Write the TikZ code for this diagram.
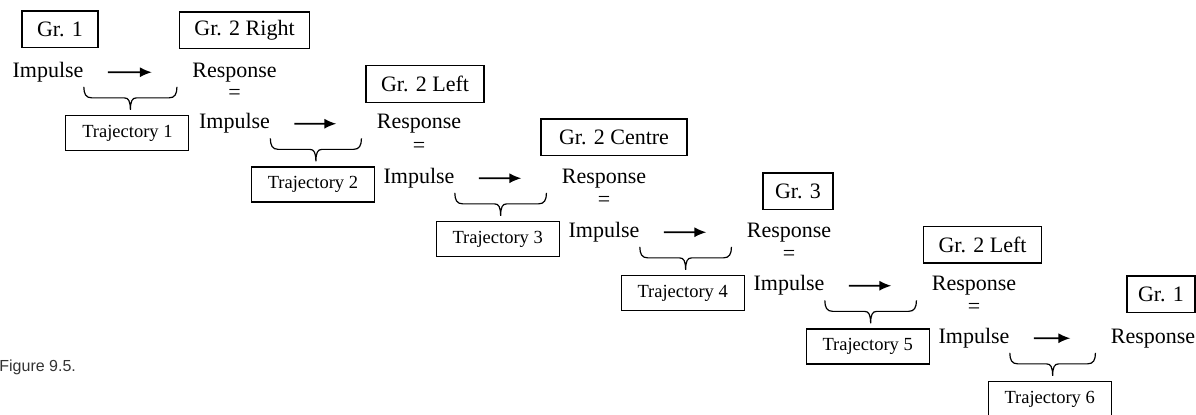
\documentclass[tikz,border=0pt]{standalone}
\usepackage{fontspec}
\setmainfont{Liberation Serif}
\newfontfamily\captionsans{Liberation Sans}
\usetikzlibrary{arrows.meta,positioning,calc}

\begin{document}
\begin{tikzpicture}[
x=0.5pt, y=-0.5pt,
font=\fontsize{11}{13}\selectfont,
node distance=6.25pt,
term/.style={inner sep=0pt, anchor=base},
eqsign/.style={inner sep=0pt},
grbox/.style={draw, line width=0.6pt, inner xsep=7.5pt, minimum height=18.25pt},
trajbox/.style={draw, line width=0.6pt, font=\fontsize{9.25}{11}\selectfont, minimum width=61.5pt, minimum height=17.5pt, xshift=-1.5pt},
arrow/.style={-{Latex[length=6pt,width=5pt]}, line width=0.85pt, shorten <=12pt, shorten >=20pt},
brc/.style={line width=0.6pt, to path={
  let \p1=(\tikztostart), \p2=(\tikztotarget), \p3=($(\p1)!0.5!(\p2)$) in
  (\p1) .. controls (\x1,\y1-3.5pt) and (\x1+1pt,\y1-5.5pt) .. (\x1+4pt,\y1-5.5pt)
  -- (\x3-3pt,\y1-5.5pt) .. controls (\x3-1pt,\y1-5.5pt) and (\x3,\y1-7pt) .. (\x3,\y1-11.5pt)
  .. controls (\x3,\y1-7pt) and (\x3+1pt,\y1-5.5pt) .. (\x3+3pt,\y1-5.5pt)
  -- (\x2-4pt,\y1-5.5pt) .. controls (\x2-1pt,\y1-5.5pt) and (\x2,\y1-3.5pt) .. (\p2)}}
]
\useasboundingbox (0,0) rectangle (1196,414);

% impulse / response chain
\node[term] (imp1) at (48,77.3) {Impulse};
\node[term] (resp1) at (234.5,77.3) {Response};
\node[eqsign] (eq1) at (234.5,94.5) {=};
\node[term] (imp2) at (234.5,128.8) {Impulse};
\node[term] (resp2) at (419,128.8) {Response};
\node[eqsign] (eq2) at (419,147.5) {=};
\node[term] (imp3) at (419,183.3) {Impulse};
\node[term] (resp3) at (604,183.3) {Response};
\node[eqsign] (eq3) at (604,201.5) {=};
\node[term] (imp4) at (604,237.3) {Impulse};
\node[term] (resp4) at (789,237.3) {Response};
\node[eqsign] (eq4) at (789,255.5) {=};
\node[term] (imp5) at (789,290.8) {Impulse};
\node[term] (resp5) at (974,290.8) {Response};
\node[eqsign] (eq5) at (974,308.5) {=};
\node[term] (imp6) at (974,343.3) {Impulse};
\node[term] (resp6) at (1153,343.3) {Response};

% group boxes
\node[grbox, above=6.75pt of imp1, xshift=6pt] (gr0) {Gr. 1};
\node[grbox, above=6.75pt of resp1, xshift=5pt] (gr1) {Gr. 2 Right};
\node[grbox, above=5.6pt of resp2, xshift=3pt] (gr2) {Gr. 2 Left};
\node[grbox, above=of resp3, xshift=5pt, minimum width=73pt] (gr3) {Gr. 2 Centre};
\node[grbox, above=of resp4, xshift=4.5pt, inner xsep=6pt] (gr4) {Gr. 3};
\node[grbox, above=of resp5, xshift=4.25pt] (gr5) {Gr. 2 Left};
\node[grbox, above=7.75pt of resp6, xshift=4pt, minimum width=34pt, inner xsep=4pt] (gr6) {Gr. 1};

% arrows
\draw[arrow] (imp1) -- (resp1);
\draw[arrow] (imp2) -- (resp2);
\draw[arrow] (imp3) -- (resp3);
\draw[arrow] (imp4) -- (resp4);
\draw[arrow] (imp5) -- (resp5);
\draw[arrow] (imp6) -- (resp6);

% braces
\draw[brc] ([yshift=-2.25pt]imp1.south east) to ([xshift=-7.5pt,yshift=-2.25pt]resp1.south west);
\draw[brc] ([yshift=-2.25pt]imp2.south east) to ([xshift=-7.5pt,yshift=-2.25pt]resp2.south west);
\draw[brc] ([yshift=-2.25pt]imp3.south east) to ([xshift=-7.5pt,yshift=-2.25pt]resp3.south west);
\draw[brc] ([yshift=-2.25pt]imp4.south east) to ([xshift=-7.5pt,yshift=-2.25pt]resp4.south west);
\draw[brc] ([yshift=-2.25pt]imp5.south east) to ([xshift=-7.5pt,yshift=-2.25pt]resp5.south west);
\draw[brc] ([yshift=-2.25pt]imp6.south east) to ([xshift=-7.5pt,yshift=-2.25pt]resp6.south west);

% trajectories
\node[trajbox, below=16.25pt] (traj1) at ($(imp1.south east)!0.5!([xshift=-7.5pt]resp1.south west)$) {Trajectory 1};
\node[trajbox, below=16.25pt] (traj2) at ($(imp2.south east)!0.5!([xshift=-7.5pt]resp2.south west)$) {Trajectory 2};
\node[trajbox, below=16.25pt] (traj3) at ($(imp3.south east)!0.5!([xshift=-7.5pt]resp3.south west)$) {Trajectory 3};
\node[trajbox, below=16.25pt] (traj4) at ($(imp4.south east)!0.5!([xshift=-7.5pt]resp4.south west)$) {Trajectory 4};
\node[trajbox, below=16.25pt] (traj5) at ($(imp5.south east)!0.5!([xshift=-7.5pt]resp5.south west)$) {Trajectory 5};
\node[trajbox, below=16.25pt] (traj6) at ($(imp6.south east)!0.5!([xshift=-7.5pt]resp6.south west)$) {Trajectory 6};

\node[anchor=base west, inner sep=0pt, text=black!80, font=\captionsans\fontsize{8}{10}\selectfont] (caption) at (-1,371.5) {Figure 9.5.};
\end{tikzpicture}
\end{document}
